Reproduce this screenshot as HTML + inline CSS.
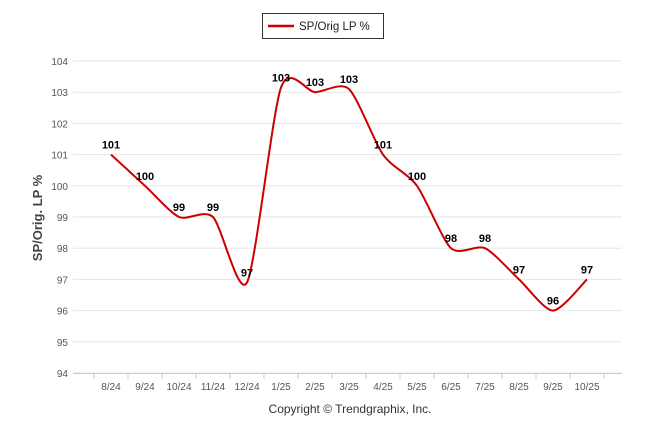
<!DOCTYPE html>
<html><head><meta charset="utf-8"><style>
body{margin:0;background:#fff;font-family:"Liberation Sans",sans-serif}
svg{display:block}
</style></head><body>
<svg width="646" height="434">
<g>
<rect x="262.5" y="13.5" width="121" height="25" fill="#fff" stroke="#333"/>
<line x1="268" y1="26" x2="294" y2="26" stroke="#cc0000" stroke-width="2.5"/>
<text x="299" y="30" font-size="11.5" fill="#222">SP/Orig LP %</text>
</g>
<g id="grid"></g><g id="yt"></g><g id="xt"></g>
<text transform="translate(42,218) rotate(-90)" text-anchor="middle" font-size="13" font-weight="bold" fill="#444">SP/Orig. LP %</text>
<path id="line" fill="none" stroke="#cc0000" stroke-width="2"/>
<g id="lbl"></g>
<text x="350" y="413" text-anchor="middle" font-size="12" fill="#333">Copyright © Trendgraphix, Inc.</text>
</svg>
<script>
const categories=["8/24","9/24","10/24","11/24","12/24","1/25","2/25","3/25","4/25","5/25","6/25","7/25","8/25","9/25","10/25"];
const values=[101,100,99,99,96.9,103.15,103,103.1,101,100,98,98,97,96,97];
const labels=["101","100","99","99","97","103","103","103","101","100","98","98","97","96","97"];
const yTicks=[94,95,96,97,98,99,100,101,102,103,104];
const NS="http://www.w3.org/2000/svg";
const x=i=>111+i*34, y=v=>373-(v-94)*31.2;
function mk(t,a,p){const e=document.createElementNS(NS,t);for(const k in a)e.setAttribute(k,a[k]);p.appendChild(e);return e;}
const g=document.getElementById('grid'),yt=document.getElementById('yt'),xt=document.getElementById('xt'),lb=document.getElementById('lbl');
yTicks.forEach(v=>{
 const l=mk('line',{x1:73,x2:622,y1:y(v),y2:y(v),stroke:'#e6e6e6'},g);
 
 
 const t=mk('text',{x:68,y:y(v)+4,'text-anchor':'end','font-size':10,fill:'#555'},yt);t.textContent=v;
 
 
});
const ax=mk('line',{x1:73,x2:622,y1:373.5,y2:373.5,stroke:'#ccc'},xt);


for(let i=0;i<=categories.length;i++){mk('line',{x1:94+i*34,x2:94+i*34,y1:374,y2:379,stroke:'#ccc'},xt);}
categories.forEach((c,i)=>{
 const t=mk('text',{x:x(i),y:390,'text-anchor':'middle','font-size':10,fill:'#555'},xt);t.textContent=c;
 
 
 const d=mk('text',{x:x(i),y:y(values[i])-6,'text-anchor':'middle','font-size':11,'font-weight':'bold',fill:'#000'},lb);d.textContent=labels[i];
 
 
});
const P=values.map((v,i)=>[x(i),y(v)]);
let d='M'+P[0][0]+','+P[0][1];
for(let i=0;i<P.length-1;i++){
 const p0=P[i-1]||P[i],p1=P[i],p2=P[i+1],p3=P[i+2]||P[i+1],s=0.125;
 const c1=[p1[0]+(p2[0]-p0[0])*s,p1[1]+(p2[1]-p0[1])*s];
 const c2=[p2[0]-(p3[0]-p1[0])*s,p2[1]-(p3[1]-p1[1])*s];
 d+=` C${c1},${c2},${p2}`;
}
document.getElementById('line').setAttribute('d',d);
</script>
</body></html>
